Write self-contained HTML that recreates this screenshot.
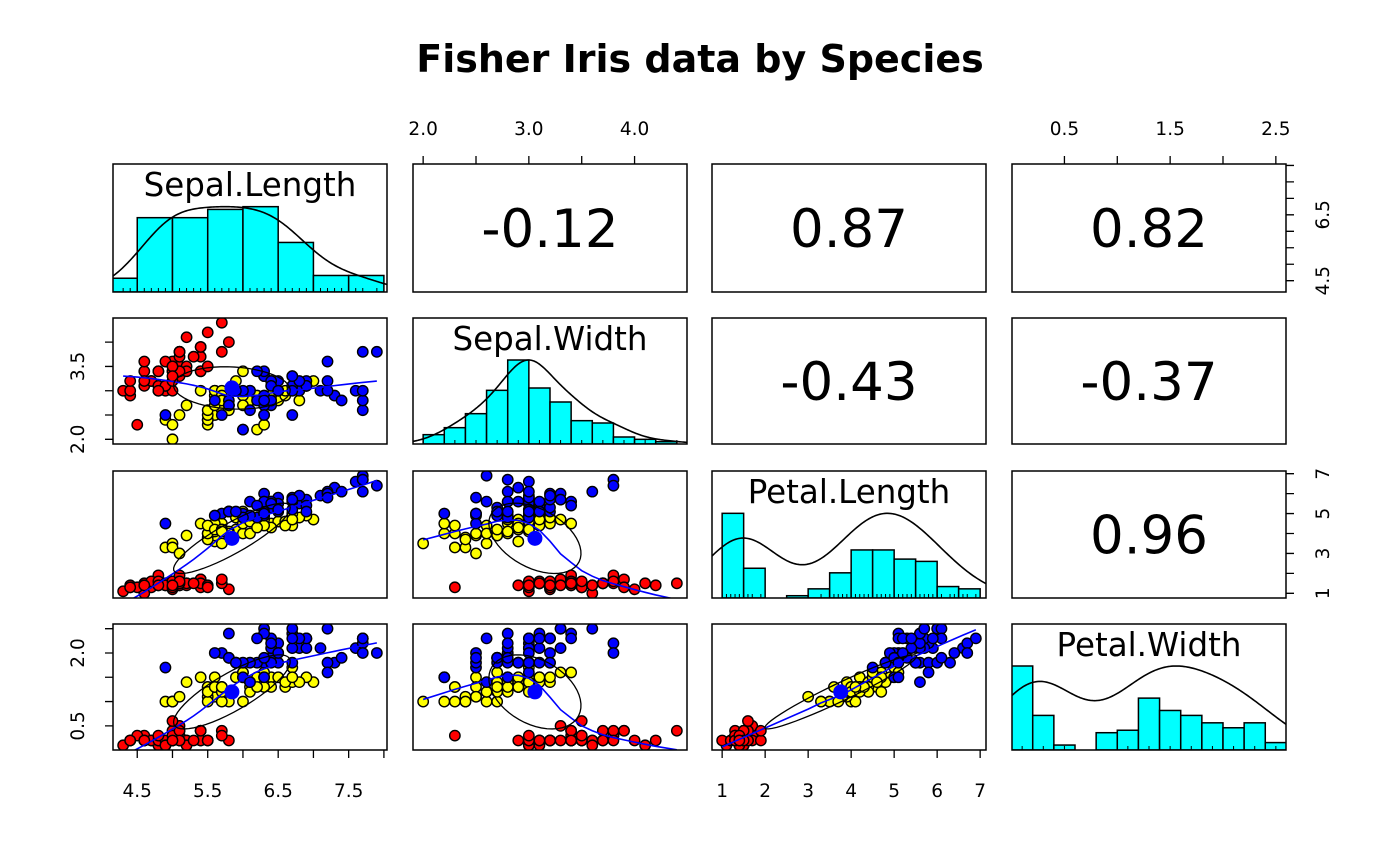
<!DOCTYPE html>
<html><head><meta charset="utf-8"><style>
html,body{margin:0;padding:0;background:#fff;}
svg{display:block;font-family:"DejaVu Sans","Liberation Sans",sans-serif;}
</style></head><body>
<svg id="chart" width="1400" height="866" viewBox="0 0 1400 866" xmlns="http://www.w3.org/2000/svg">
<rect width="1400" height="866" fill="#fff"/>
<text x="700" y="72" text-anchor="middle" font-size="38" font-weight="bold">Fisher Iris data by Species</text>
<g id="root"></g>
</svg>
<script>
const varNames = ["Sepal.Length","Sepal.Width","Petal.Length","Petal.Width"];
const speciesNames = ["setosa","versicolor","virginica"];
const speciesColors = ["#ff0000","#ffff00","#0000ff"];
const sepalLength = [5.1,4.9,4.7,4.6,5.0,5.4,4.6,5.0,4.4,4.9,5.4,4.8,4.8,4.3,5.8,5.7,5.4,5.1,5.7,5.1,5.4,5.1,4.6,5.1,4.8,5.0,5.0,5.2,5.2,4.7,4.8,5.4,5.2,5.5,4.9,5.0,5.5,4.9,4.4,5.1,5.0,4.5,4.4,5.0,5.1,4.8,5.1,4.6,5.3,5.0,
7.0,6.4,6.9,5.5,6.5,5.7,6.3,4.9,6.6,5.2,5.0,5.9,6.0,6.1,5.6,6.7,5.6,5.8,6.2,5.6,5.9,6.1,6.3,6.1,6.4,6.6,6.8,6.7,6.0,5.7,5.5,5.5,5.8,6.0,5.4,6.0,6.7,6.3,5.6,5.5,5.5,6.1,5.8,5.0,5.6,5.7,5.7,6.2,5.1,5.7,
6.3,5.8,7.1,6.3,6.5,7.6,4.9,7.3,6.7,7.2,6.5,6.4,6.8,5.7,5.8,6.4,6.5,7.7,7.7,6.0,6.9,5.6,7.7,6.3,6.7,7.2,6.2,6.1,6.4,7.2,7.4,7.9,6.4,6.3,6.1,7.7,6.3,6.4,6.0,6.9,6.7,6.9,5.8,6.8,6.7,6.7,6.3,6.5,6.2,5.9];
const sepalWidth = [3.5,3.0,3.2,3.1,3.6,3.9,3.4,3.4,2.9,3.1,3.7,3.4,3.0,3.0,4.0,4.4,3.9,3.5,3.8,3.8,3.4,3.7,3.6,3.3,3.4,3.0,3.4,3.5,3.4,3.2,3.1,3.4,4.1,4.2,3.1,3.2,3.5,3.6,3.0,3.4,3.5,2.3,3.2,3.5,3.8,3.0,3.8,3.2,3.7,3.3,
3.2,3.2,3.1,2.3,2.8,2.8,3.3,2.4,2.9,2.7,2.0,3.0,2.2,2.9,2.9,3.1,3.0,2.7,2.2,2.5,3.2,2.8,2.5,2.8,2.9,3.0,2.8,3.0,2.9,2.6,2.4,2.4,2.7,2.7,3.0,3.4,3.1,2.3,3.0,2.5,2.6,3.0,2.6,2.3,2.7,3.0,2.9,2.9,2.5,2.8,
3.3,2.7,3.0,2.9,3.0,3.0,2.5,2.9,2.5,3.6,3.2,2.7,3.0,2.5,2.8,3.2,3.0,3.8,2.6,2.2,3.2,2.8,2.8,2.7,3.3,3.2,2.8,3.0,2.8,3.0,2.8,3.8,2.8,2.8,2.6,3.0,3.4,3.1,3.0,3.1,3.1,3.1,2.7,3.2,3.3,3.0,2.5,3.0,3.4,3.0];
const petalLength = [1.4,1.4,1.3,1.5,1.4,1.7,1.4,1.5,1.4,1.5,1.5,1.6,1.4,1.1,1.2,1.5,1.3,1.4,1.7,1.5,1.7,1.5,1.0,1.7,1.9,1.6,1.6,1.5,1.4,1.6,1.6,1.5,1.5,1.4,1.5,1.2,1.3,1.4,1.3,1.5,1.3,1.3,1.3,1.6,1.9,1.4,1.6,1.4,1.5,1.4,
4.7,4.5,4.9,4.0,4.6,4.5,4.7,3.3,4.6,3.9,3.5,4.2,4.0,4.7,3.6,4.4,4.5,4.1,4.5,3.9,4.8,4.0,4.9,4.7,4.3,4.4,4.8,5.0,4.5,3.5,3.8,3.7,3.9,5.1,4.5,4.5,4.7,4.4,4.1,4.0,4.4,4.6,4.0,3.3,4.2,4.2,4.2,4.3,3.0,4.1,
6.0,5.1,5.9,5.6,5.8,6.6,4.5,6.3,5.8,6.1,5.1,5.3,5.5,5.0,5.1,5.3,5.5,6.7,6.9,5.0,5.7,4.9,6.7,4.9,5.7,6.0,4.8,4.9,5.6,5.8,6.1,6.4,5.6,5.1,5.6,6.1,5.6,5.5,4.8,5.4,5.6,5.1,5.1,5.9,5.7,5.2,5.0,5.2,5.4,5.1];
const petalWidth = [0.2,0.2,0.2,0.2,0.2,0.4,0.3,0.2,0.2,0.1,0.2,0.2,0.1,0.1,0.2,0.4,0.4,0.3,0.3,0.3,0.2,0.4,0.2,0.5,0.2,0.2,0.4,0.2,0.2,0.2,0.2,0.4,0.1,0.2,0.2,0.2,0.2,0.1,0.2,0.2,0.3,0.3,0.2,0.6,0.4,0.3,0.2,0.2,0.2,0.2,
1.4,1.5,1.5,1.3,1.5,1.3,1.6,1.0,1.3,1.4,1.0,1.5,1.0,1.4,1.3,1.4,1.5,1.0,1.5,1.1,1.8,1.3,1.5,1.2,1.3,1.4,1.4,1.7,1.5,1.0,1.1,1.0,1.2,1.6,1.5,1.6,1.5,1.3,1.3,1.3,1.2,1.4,1.2,1.0,1.3,1.2,1.3,1.3,1.1,1.3,
2.5,1.9,2.1,1.8,2.2,2.1,1.7,1.8,1.8,2.5,2.0,1.9,2.1,2.0,2.4,2.3,1.8,2.2,2.3,1.5,2.3,2.0,2.0,1.8,2.1,1.8,1.8,1.8,2.1,1.6,1.9,2.0,2.2,1.5,1.4,2.3,2.4,1.8,1.8,2.1,2.4,2.3,1.9,2.3,2.5,2.3,1.9,2.0,2.3,1.8];
const speciesCounts = [50,50,50];
const histStep = [0.5,0.2,0.5,0.2];
const topTicks = {1:[2.0,2.5,3.0,3.5,4.0], 3:[0.5,1.0,1.5,2.0,2.5]};
const topLabels = {1:["2.0","3.0","4.0"], 3:["0.5","1.5","2.5"]};
const rightTicks = {0:[4.5,5.0,5.5,6.0,6.5,7.0,7.5,8.0], 2:[1,2,3,4,5,6,7]};
const rightLabels = {0:["4.5","6.5"], 2:["1","3","5","7"]};
const leftTicks = {1:[2.0,2.5,3.0,3.5,4.0], 3:[0.5,1.0,1.5,2.0,2.5]};
const leftLabels = {1:["2.0","3.5"], 3:["0.5","2.0"]};
const bottomTicks = {0:[4.5,5.0,5.5,6.0,6.5,7.0,7.5,8.0], 2:[1,2,3,4,5,6,7]};
const bottomLabels = {0:["4.5","5.5","6.5","7.5"], 2:["1","2","3","4","5","6","7"]};

const data = [sepalLength, sepalWidth, petalLength, petalWidth];
const species = [];
speciesCounts.forEach((c,i)=>{for(let k=0;k<c;k++)species.push(i);});
const NS="http://www.w3.org/2000/svg";
const root=document.getElementById('root');
const TF=18.5;
function el(tag,attrs,parent){const e=document.createElementNS(NS,tag);for(const k in attrs)e.setAttribute(k,attrs[k]);(parent||root).appendChild(e);return e;}
const colX=[113,413,712,1012], W=274;
const rowY=[164,318,471,624], rowB=[292,444,598,750];
const ranges=data.map(v=>{const mn=Math.min(...v),mx=Math.max(...v),d=mx-mn;return [mn-0.04*d,mx+0.04*d];});
function sx(c,v){const r=ranges[c];return colX[c]+(v-r[0])/(r[1]-r[0])*W;}
function sy(rw,v){const r=ranges[rw];return rowB[rw]-(v-r[0])/(r[1]-r[0])*(rowB[rw]-rowY[rw]);}
const mean=a=>a.reduce((s,x)=>s+x,0)/a.length;
const sd=a=>{const m=mean(a);return Math.sqrt(a.reduce((s,x)=>s+(x-m)*(x-m),0)/(a.length-1));};
function cor(a,b){const ma=mean(a),mb=mean(b);let s=0,sa=0,sb=0;for(let i=0;i<a.length;i++){s+=(a[i]-ma)*(b[i]-mb);sa+=(a[i]-ma)**2;sb+=(b[i]-mb)**2;}return s/Math.sqrt(sa*sb);}
function quantile(s,p){const h=(s.length-1)*p,l=Math.floor(h);return s[l]+(h-l)*((s[Math.min(l+1,s.length-1)])-s[l]);}
function lowess(x,y,f,iter){
  const n=x.length, idx=[...Array(n).keys()].sort((a,b)=>x[a]-x[b]);
  const X=idx.map(i=>x[i]),Y=idx.map(i=>y[i]);
  const ns=Math.max(2,Math.min(n,Math.floor(f*n+1e-7)));
  let rw=new Array(n).fill(1), ys=new Array(n);
  for(let it=0;it<=iter;it++){
    for(let i=0;i<n;i++){
      const d=X.map(v=>Math.abs(v-X[i])).sort((a,b)=>a-b);
      let h=Math.max(d[ns-1],1e-9);
      let sw=0,swx=0,swy=0,swxx=0,swxy=0;
      for(let j=0;j<n;j++){const r=Math.abs(X[j]-X[i]);let w=0;
        if(r<=0.999*h){w=r<=0.001*h?1:Math.pow(1-Math.pow(r/h,3),3);}
        w*=rw[j]; sw+=w;swx+=w*X[j];swy+=w*Y[j];swxx+=w*X[j]*X[j];swxy+=w*X[j]*Y[j];}
      if(sw<=0){ys[i]=Y[i];continue;}
      const mx=swx/sw,my=swy/sw,vx=swxx/sw-mx*mx;
      const b=vx>1e-12*(h*h)?(swxy/sw-mx*my)/vx:0;
      ys[i]=my+b*(X[i]-mx);
    }
    if(it===iter)break;
    const res=Y.map((v,i)=>v-ys[i]);const ar=res.map(Math.abs).sort((a,b)=>a-b);
    const m=(ar[Math.floor((n-1)/2)]+ar[Math.ceil((n-1)/2)])/2, cmad=6*m;
    if(cmad<1e-12)break;
    rw=res.map(r=>{const u=Math.abs(r)/cmad;return u<1?(1-u*u)**2:0;});
  }
  return X.map((v,i)=>[v,ys[i]]);
}
const defs=el('defs',{});
for(let r=0;r<4;r++)for(let c=0;c<4;c++){
  const cp=el('clipPath',{id:`cp${r}${c}`},defs);
  el('rect',{x:colX[c],y:rowY[r],width:W,height:rowB[r]-rowY[r]},cp);
}
for(let r=0;r<4;r++)for(let c=0;c<4;c++){
  const g=el('g',{});
  
  
  const x0=colX[c],y0=rowY[r],h=rowB[r]-rowY[r];
  const inner=el('g',{'clip-path':`url(#cp${r}${c})`},g);
  if(r===c){
    const v=data[c], st=histStep[c];
    const b0=Math.floor(Math.min(...v)/st+1e-9)*st, b1=Math.ceil(Math.max(...v)/st-1e-9)*st;
    const nb=Math.round((b1-b0)/st), counts=new Array(nb).fill(0);
    v.forEach(x=>{let k=Math.ceil((x-b0)/st-1e-7)-1;if(k<0)k=0;if(k>=nb)k=nb-1;counts[k]++;});
    const mxc=Math.max(...counts);
    const hy=t=>rowB[r]-t/1.5*h;
    counts.forEach((cnt,k)=>{
      const xa=sx(c,b0+k*st),xb=sx(c,b0+(k+1)*st);
      const rect=el('rect',{x:xa,y:hy(cnt/mxc),width:xb-xa,height:rowB[r]-hy(cnt/mxc),fill:'#00ffff',stroke:'#000','stroke-width':1.5},inner);
      
      
    });
    let rp='';v.forEach(x=>{const px=sx(c,x);rp+=`M${px},${rowB[r]}V${rowB[r]-4}`;});
    const rug=el('path',{d:rp,stroke:'#000','stroke-width':1,fill:'none'},inner);
    
    
    const s=[...v].sort((a,b)=>a-b), iqr=quantile(s,0.75)-quantile(s,0.25);
    const bw=1.2*1.06*Math.min(sd(v),iqr/1.34)*Math.pow(v.length,-0.2);
    const lo=s[0]-3*bw, hi=s[s.length-1]+3*bw, pts=[];
    for(let k=0;k<=300;k++){const t=lo+(hi-lo)*k/300;let d=0;v.forEach(x=>{const u=(t-x)/bw;d+=Math.exp(-0.5*u*u);});pts.push([t,d]);}
    const md=Math.max(...pts.map(p=>p[1]));
    const dl=el('path',{d:'M'+pts.map(p=>`${sx(c,p[0]).toFixed(2)},${hy(p[1]/md).toFixed(2)}`).join('L'),fill:'none',stroke:'#000','stroke-width':1.6},inner);
    
    
    const t=el('text',{x:x0+W/2,y:y0+32,'text-anchor':'middle','font-size':32.5},g);
    t.textContent=varNames[c];
    
    
  } else if(r<c){
    const t=el('text',{x:x0+W/2,y:y0+h/2+19,'text-anchor':'middle','font-size':53},g);
    t.textContent=cor(data[r],data[c]).toFixed(2);
    
    
  } else {
    const xv=data[c], yv=data[r];
    for(let i=0;i<xv.length;i++){
      const p=el('circle',{cx:sx(c,xv[i]),cy:sy(r,yv[i]),r:5.2,fill:speciesColors[species[i]],stroke:'#000','stroke-width':1.4},inner);
      
      
    }
    const lw=lowess(xv,yv,2/3,3);
    const sm=el('path',{d:'M'+lw.map(p=>`${sx(c,p[0]).toFixed(2)},${sy(r,p[1]).toFixed(2)}`).join('L'),fill:'none',stroke:'#0000ff','stroke-width':1.6},inner);
    
    
    const xm=mean(xv),ym=mean(yv),xs=sd(xv),ys=sd(yv),rr=cor(xv,yv);
    const th=(Math.abs(rr)>0?Math.sign(rr):1)/Math.SQRT2, a=Math.sqrt(1+rr), b=Math.sqrt(1-rr);
    const ep=[];
    for(let k=0;k<=51;k++){const an=k*2*Math.PI/51,cx=Math.cos(an),sn=Math.sin(an);
      const ex=cx*a*th+sn*b*(-th), ey=cx*a*th+sn*b*th;
      ep.push([sx(c,xm+ex*xs),sy(r,ym+ey*ys)]);}
    const ell=el('path',{d:'M'+ep.map(p=>p[0].toFixed(2)+','+p[1].toFixed(2)).join('L'),fill:'none',stroke:'#000','stroke-width':1.3},inner);
    
    
    const md=el('circle',{cx:sx(c,xm),cy:sy(r,ym),r:7.5,fill:'#0000ff'},inner);
    
    
  }
  const box=el('rect',{x:x0,y:y0,width:W,height:h,fill:'none',stroke:'#000','stroke-width':1.5},g);
  
  
}
function axisGroup(name){const g=el('g',{});return g;}
for(const c in topTicks){const g=axisGroup(`top-axis-${varNames[c].toLowerCase().replace('.','-')}`);
  let d='';topTicks[c].forEach(v=>{const x=sx(+c,v);d+=`M${x},${rowY[0]}V${rowY[0]-8}`;});
  el('path',{d,stroke:'#000','stroke-width':1.3},g);
  topLabels[c].forEach(l=>{const t=el('text',{x:sx(+c,parseFloat(l)),y:rowY[0]-29,'text-anchor':'middle','font-size':TF},g);t.textContent=l;
    });}
for(const c in bottomTicks){const g=axisGroup(`bottom-axis-${varNames[c].toLowerCase().replace('.','-')}`);
  let d='';bottomTicks[c].forEach(v=>{const x=sx(+c,v);d+=`M${x},${rowB[3]}V${rowB[3]+8}`;});
  el('path',{d,stroke:'#000','stroke-width':1.3},g);
  bottomLabels[c].forEach(l=>{const t=el('text',{x:sx(+c,parseFloat(l)),y:rowB[3]+47,'text-anchor':'middle','font-size':TF},g);t.textContent=l;
    });}
for(const r in rightTicks){const g=axisGroup(`right-axis-${varNames[r].toLowerCase().replace('.','-')}`);
  const xr=colX[3]+W;let d='';rightTicks[r].forEach(v=>{const y=sy(+r,v);d+=`M${xr},${y}H${xr+8}`;});
  el('path',{d,stroke:'#000','stroke-width':1.3},g);
  rightLabels[r].forEach(l=>{const y=sy(+r,parseFloat(l)),x=xr+43;const t=el('text',{x,y,'text-anchor':'middle','font-size':TF,transform:`rotate(-90 ${x} ${y})`},g);t.textContent=l;
    });}
for(const r in leftTicks){const g=axisGroup(`left-axis-${varNames[r].toLowerCase().replace('.','-')}`);
  const xl=colX[0];let d='';leftTicks[r].forEach(v=>{const y=sy(+r,v);d+=`M${xl},${y}H${xl-8}`;});
  el('path',{d,stroke:'#000','stroke-width':1.3},g);
  leftLabels[r].forEach(l=>{const y=sy(+r,parseFloat(l)),x=xl-29;const t=el('text',{x,y,'text-anchor':'middle','font-size':TF,transform:`rotate(-90 ${x} ${y})`},g);t.textContent=l;
    });}
</script>
</body></html>
